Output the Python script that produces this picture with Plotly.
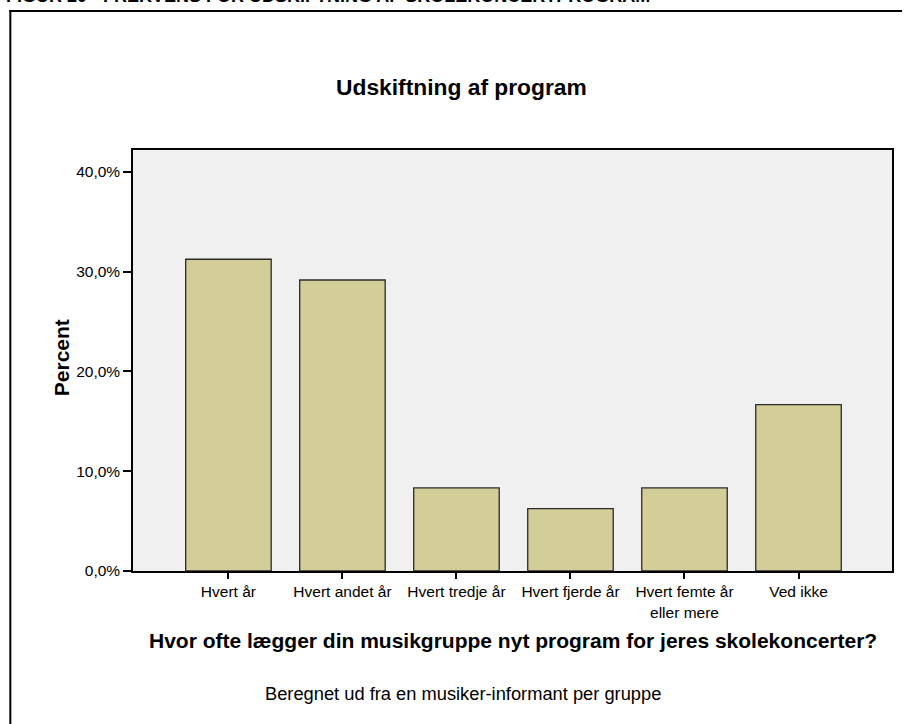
import plotly.graph_objects as go

categories = ["Hvert år", "Hvert andet år", "Hvert tredje år", "Hvert fjerde år",
              "Hvert femte år<br>eller mere", "Ved ikke"]
percent = [31.25, 29.17, 8.33, 6.25, 8.33, 16.67]
y_tickvals = [0, 10, 20, 30, 40]
y_ticktext = ["0,0%", "10,0%", "20,0%", "30,0%", "40,0%"]

title_text = "Udskiftning af program"
x_title = "Hvor ofte lægger din musikgruppe nyt program for jeres skolekoncerter?"
y_title = "Percent"
footnote = "Beregnet ud fra en musiker-informant per gruppe"
caption = "FIGUR 20 - FREKVENS FOR UDSKIFTNING AF SKOLEKONCERTPROGRAM"

W, H = 904, 724
L, R, T, B = 133, 10, 150, 153
pw, ph = W - L - R, H - T - B

def px(x):
    return (x - L) / pw

def py(y):
    return (H - B - y) / ph

FONT = "Liberation Sans, Arial, sans-serif"

fig = go.Figure(go.Bar(
    x=list(range(len(categories))), y=percent,
    width=0.75,
    marker=dict(color="#d3ce97", line=dict(color="#2b2b2b", width=1.3)),
    hoverinfo="skip",
))

fig.update_layout(
    width=W, height=H,
    margin=dict(l=L, r=R, t=T, b=B),
    paper_bgcolor="white", plot_bgcolor="#f0f0f0",
    font=dict(family=FONT, color="black"),
    showlegend=False,
    bargap=0.25,
    xaxis=dict(
        range=[-0.837, 5.82], tickmode="array",
        tickvals=list(range(len(categories))), ticktext=categories,
        ticks="outside", ticklen=6, tickwidth=2, tickcolor="black",
        showline=True, linecolor="black", linewidth=1.5, mirror=True,
        showgrid=False, zeroline=False,
        tickfont=dict(size=15.5, family=FONT),
    ),
    yaxis=dict(
        range=[0, 42.2], tickmode="array",
        tickvals=y_tickvals, ticktext=y_ticktext,
        ticks="outside", ticklen=8, tickwidth=2, tickcolor="black",
        showline=True, linecolor="black", linewidth=1.5, mirror=True,
        showgrid=False, zeroline=False,
        tickfont=dict(size=15.5, family=FONT),
    ),
    annotations=[
        dict(text=y_title, xref="paper", yref="paper", x=px(61), y=py(358),
             xanchor="center", yanchor="middle", textangle=-90, showarrow=False,
             font=dict(size=21, family=FONT, weight="bold")),
        dict(text=title_text, xref="paper", yref="paper", x=px(462), y=py(87),
             xanchor="center", yanchor="middle", showarrow=False,
             font=dict(size=22.8, family=FONT, weight="bold")),
        dict(text=x_title, xref="paper", yref="paper", x=px(514), y=py(640),
             xanchor="center", yanchor="middle", showarrow=False,
             font=dict(size=21, family=FONT, weight="bold")),
        dict(text=footnote, xref="paper", yref="paper", x=px(464), y=py(693),
             xanchor="center", yanchor="middle", showarrow=False,
             font=dict(size=18.3, family=FONT)),
        dict(text=caption, xref="paper", yref="paper", x=px(4), y=py(-4),
             xanchor="left", yanchor="middle", showarrow=False,
             font=dict(size=18, family=FONT, weight="bold")),
    ],
    shapes=[
        dict(type="line", xref="paper", yref="paper", x0=px(9), x1=px(904),
             y0=py(11), y1=py(11), line=dict(color="black", width=2)),
        dict(type="line", xref="paper", yref="paper", x0=px(10), x1=px(10),
             y0=py(10), y1=py(724), line=dict(color="black", width=2)),
    ],
)

fig.write_html("out.html", config={"displayModeBar": False},
               post_script="document.body.style.margin='0px';document.body.style.padding='0px';")
